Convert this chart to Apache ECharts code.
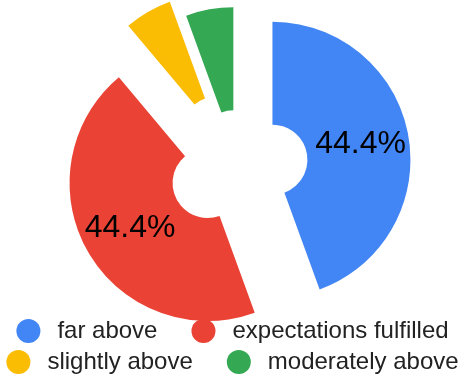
<!DOCTYPE html>
<html>
<head>
<meta charset="utf-8">
<script src="https://cdn.jsdelivr.net/npm/echarts@6/dist/echarts.min.js"></script>
<style>
	html, body { margin: 0; padding: 0; background: #fff; }
	#chart { width: 465px; height: 376px; }
</style>
</head>
<body>
<div id="chart"></div>
<script>
	// data (counts 8/8/1/1 give 44.4% / 5.6%)
	const categories = ['far above', 'expectations fulfilled', 'slightly above', 'moderately above'];
	const values = [8, 8, 1, 1];
	const colors = ['#4285F4', '#EA4335', '#FBBC04', '#34A853'];
	// how far each slice is pulled out of the pie
	const offsets = [36, 34, 40, 21];
	const legendRows = [
		['far above', 'expectations fulfilled'],
		['slightly above', 'moderately above']
	];

	const chart = echarts.init(document.getElementById('chart'));
	const total = values.reduce((a, b) => a + b, 0);

	// one series per slice so each one can have its own offset
	const series = categories.map((name, i) => ({
		type: 'pie',
		center: [237, 166],
		radius: [35, 138],
		startAngle: 90,
		clockwise: true,
		selectedMode: 'single',
		selectedOffset: offsets[i],
		percentPrecision: 1,
		avoidLabelOverlap: false,
		emphasis: { disabled: true },
		labelLine: { show: false },
		data: categories.map((n, j) => ({
			name: n,
			value: values[j],
			selected: j === i,
			itemStyle: { color: j === i ? colors[j] : 'rgba(0,0,0,0)', borderWidth: 0 },
			label: {
				show: j === i && values[j] / total > 0.1,
				position: 'inside',
				formatter: '{d}%',
				color: '#000',
				fontSize: 32,
				fontFamily: 'Liberation Sans, Arial, sans-serif'
			}
		}))
	}));

	const legend = legendRows.map((row, r) => ({
		left: 'center',
		top: 314 + r * 31,
		orient: 'horizontal',
		icon: 'circle',
		itemWidth: 24,
		itemHeight: 24,
		itemGap: 34,
		selectedMode: false,
		textStyle: {
			fontSize: 24,
			color: '#222',
			fontFamily: 'Liberation Sans, Arial, sans-serif',
			padding: [0, 0, 0, 12]
		},
		data: row.map(n => ({ name: n, itemStyle: { color: colors[categories.indexOf(n)] } }))
	}));

	chart.setOption({
		animation: false,
		backgroundColor: '#fff',
		legend: legend,
		series: series
	});
</script>
</body>
</html>
